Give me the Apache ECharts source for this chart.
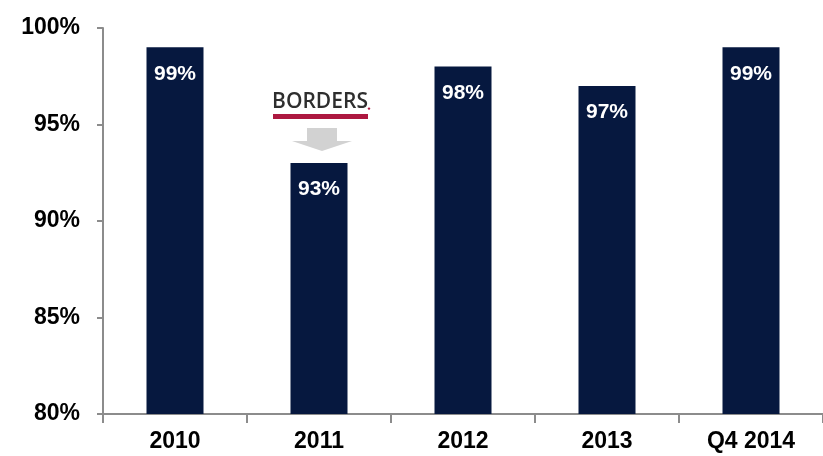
<!DOCTYPE html>
<html>
<head>
<meta charset="utf-8">
<style>
  html, body { margin: 0; padding: 0; background: #ffffff; }
  #chart { width: 823px; height: 456px; }
</style>
<script src="https://cdn.jsdelivr.net/npm/echarts@6/dist/echarts.min.js"></script>
</head>
<body>
<div id="chart"></div>
<script>
// Occupancy by period (percent)
const categories = ['2010', '2011', '2012', '2013', 'Q4 2014'];
const occupancy = [99, 93, 98, 97, 99];
const yTicks = [80, 85, 90, 95, 100];

const NAVY = '#06183f';
const AXIS = '#8c8c8c';
const CRIMSON = '#ad1840';

const chart = echarts.init(document.getElementById('chart'), null, { renderer: 'canvas' });

chart.setOption({
  animation: false,
  backgroundColor: '#ffffff',
  grid: { left: 103, top: 28, width: 725, height: 386, containLabel: false },
  xAxis: {
    type: 'category',
    data: categories,
    axisLine: { show: true, lineStyle: { color: AXIS, width: 2 } },
    axisTick: { show: true, alignWithLabel: false, length: 9, lineStyle: { color: AXIS, width: 2 } },
    axisLabel: {
      color: '#000', fontFamily: 'Liberation Sans, Arial, sans-serif',
      fontWeight: 'bold', fontSize: 23, margin: 16
    }
  },
  yAxis: {
    type: 'value',
    min: yTicks[0], max: yTicks[yTicks.length - 1], interval: 5,
    axisLine: { show: true, lineStyle: { color: AXIS, width: 2 } },
    axisTick: { show: true, length: 6, lineStyle: { color: AXIS, width: 2 } },
    splitLine: { show: false },
    axisLabel: {
      color: '#000', fontFamily: 'Liberation Sans, Arial, sans-serif',
      fontWeight: 'bold', fontSize: 23, margin: 23,
      formatter: v => v + '%'
    }
  },
  series: [{
    type: 'bar',
    data: occupancy,
    barWidth: 57,
    itemStyle: { color: NAVY },
    label: {
      show: true, position: 'insideTop', distance: 16,
      color: '#ffffff', fontFamily: 'Liberation Sans, Arial, sans-serif',
      fontWeight: 'bold', fontSize: 21,
      formatter: p => p.value + '%'
    }
  }]
});

// Borders logo with a downward arrow above the 2011 bar
const top2011 = chart.convertToPixel({ seriesIndex: 0 }, ['2011', occupancy[1]]);
const cx = top2011[0];
const by = top2011[1];

chart.setOption({
  graphic: [
    {
      type: 'text', x: cx + 1, y: by - 72,
      style: {
        text: 'BORDERS', fill: '#2e2e2e',
        font: '600 21px "Open Sans", "DejaVu Sans", sans-serif',
        align: 'center', verticalAlign: 'top'
      }
    },
    {
      type: 'circle', shape: { cx: cx + 50, cy: by - 54.5, r: 1.2 },
      style: { fill: CRIMSON }
    },
    {
      type: 'rect', shape: { x: cx - 46, y: by - 49, width: 95, height: 5 },
      style: { fill: CRIMSON }
    },
    {
      type: 'polygon',
      shape: {
        points: [
          [cx - 12, by - 35], [cx + 18, by - 35], [cx + 18, by - 22],
          [cx + 33, by - 22], [cx + 3, by - 12], [cx - 27, by - 22],
          [cx - 12, by - 22]
        ]
      },
      style: { fill: '#d2d2d2' }
    }
  ]
});
</script>
</body>
</html>
